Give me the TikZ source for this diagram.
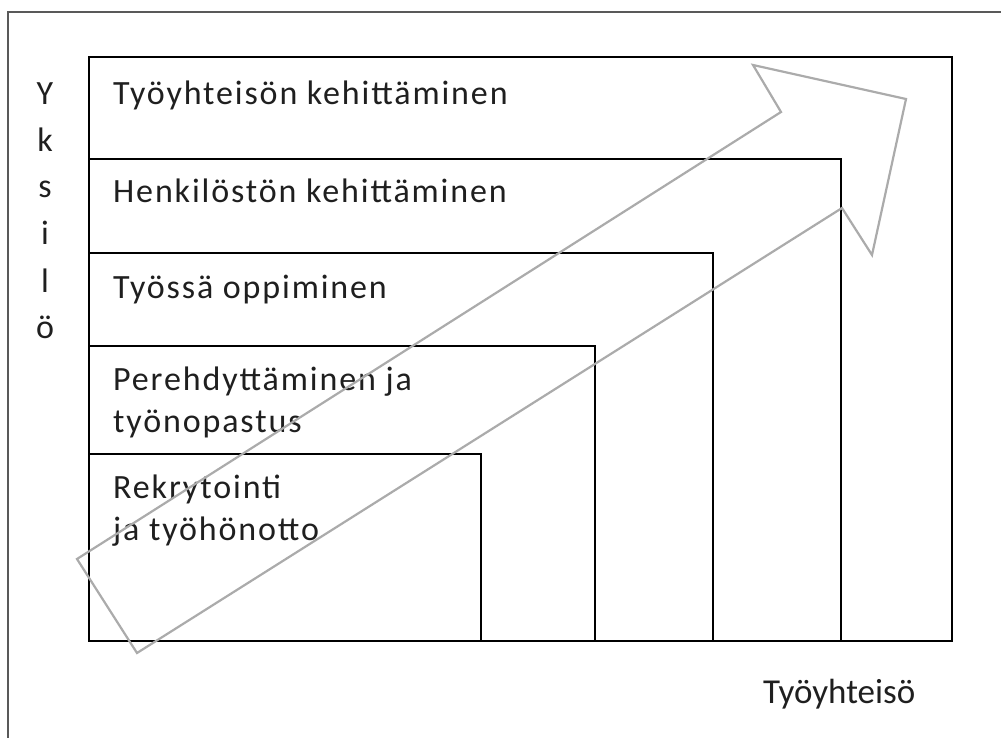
\documentclass[tikz,border=0pt]{standalone}
\usepackage{fontspec}
\setmainfont{Carlito}
\newfontfamily\lblfont[LetterSpace=5.5]{Carlito}
\begin{document}
\begin{tikzpicture}[x=1pt,y=-1pt,
  boxline/.style={draw=black,line width=1.6pt},
  frameline/.style={draw=black!65,line width=1.2pt},
  arrowline/.style={draw=black!33,line width=2.2pt,line join=miter},
  lbl/.style={anchor=base west,inner sep=0pt,text=black!88,font=\lblfont\fontsize{34}{40}\selectfont},
  axislbl/.style={anchor=base west,inner sep=0pt,text=black!88,font=\fontsize{35}{40}\selectfont},
  letter/.style={anchor=base,inner sep=0pt,text=black!88,font=\fontsize{34}{40}\selectfont}]
\useasboundingbox (0,0) rectangle (1001,738);
% outer frame (partly visible)
\draw[frameline] (8,738) -- (8,12) -- (1001,12);
% nested boxes
\draw[boxline] (89,57) rectangle (952,641);
\draw[boxline] (89,159) rectangle (841,641);
\draw[boxline] (89,253) rectangle (713,641);
\draw[boxline] (89,346) rectangle (595,641);
\draw[boxline] (89,454) rectangle (481,641);
% labels
\node[lbl] (t1) at (113,105) {Työyhteisön kehittäminen};
\node[lbl] (t2) at (113,203) {Henkilöstön kehittäminen};
\node[lbl] (t3) at (113,298) {Työssä oppiminen};
\node[lbl] (t4a) at (113,390) {Perehdyttäminen ja};
\node[lbl] (t4b) at (113,432) {työnopastus};
\node[lbl] (t5a) at (113,498) {Rekrytointi};
\node[lbl] (t5b) at (113,540) {ja työhönotto};
% axis labels
\node[letter] (y1) at (45,105) {Y};
\node[letter] (y2) at (45,152) {k};
\node[letter] (y3) at (45,198) {s};
\node[letter] (y4) at (45,244) {i};
\node[letter] (y5) at (45,292) {l};
\node[letter] (y6) at (45,338) {ö};
\node[axislbl] (xlab) at (763,703) {Työyhteisö};
% big arrow
\draw[arrowline] (77,559) -- (781,112) -- (753,65) -- (906,99) -- (872,255) -- (842,208) -- (137,653) -- cycle;
\end{tikzpicture}
\end{document}
